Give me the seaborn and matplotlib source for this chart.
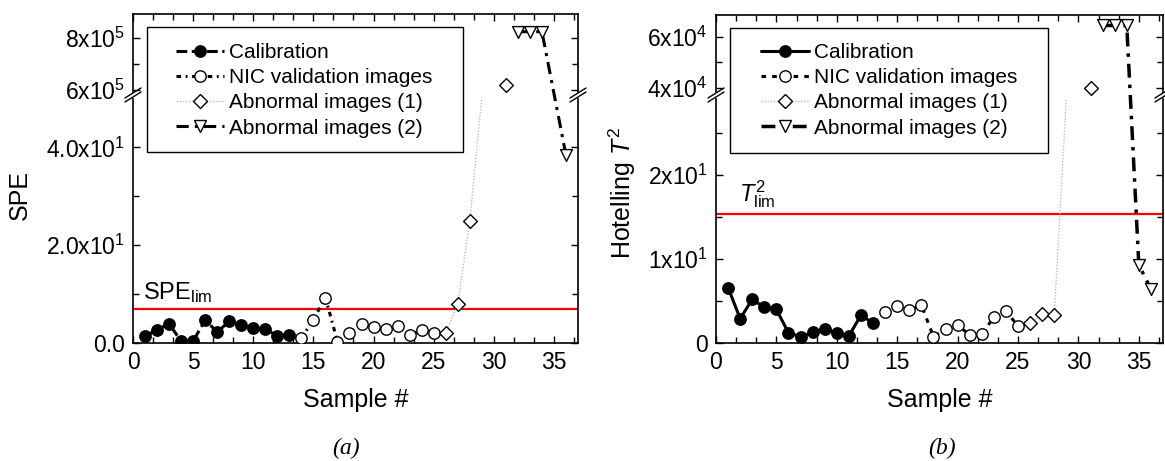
import numpy as np
import matplotlib
matplotlib.use("Agg")
import matplotlib.pyplot as plt
import seaborn as sns
from matplotlib.lines import Line2D
from matplotlib.patches import Rectangle
from matplotlib.ticker import MultipleLocator

# ---------------- data ----------------
calib_x = [1, 2, 3, 4, 5, 6, 7, 8, 9, 10, 11, 12, 13]
nic_x = [14, 15, 16, 17, 18, 19, 20, 21, 22, 23, 24, 25]
ab1_x = [26, 27, 28, 29, 30, 31]

# (a) SPE
calib_spe = [1.4, 2.7, 3.9, 0.4, 0.4, 4.7, 2.25, 4.4, 3.7, 3.0, 2.8, 1.5, 1.7]
nic_spe = [0.96, 4.8, 9.3, 0.3, 2.0, 3.8, 3.3, 2.8, 3.5, 1.6, 2.7, 2.1]
ab1_spe = [2.1, 7.9, 24.9, 54.0, np.nan, 6.19e5]
ab2_x_spe = [32, 33, 34, 36]
ab2_spe = [8.24e5, 8.24e5, 8.24e5, 38.4]
spe_lim = 6.9

# (b) Hotelling T2
calib_t2 = [6.6, 2.9, 5.2, 4.25, 4.0, 1.2, 0.75, 1.27, 1.67, 1.15, 0.83, 3.33, 2.35]
nic_t2 = [3.73, 4.4, 3.93, 4.52, 0.75, 1.63, 2.14, 0.95, 1.07, 3.06, 3.81, 2.02]
ab1_t2 = [2.35, 3.45, 3.33, 30.0, np.nan, 4.0e4]
ab2_x_t2 = [32, 33, 34, 35, 36]
ab2_t2 = [6.44e4, 6.44e4, 6.44e4, 9.3, 6.4]
t2_lim = 15.36

legend_labels = ["Calibration", "NIC validation images",
                 "Abnormal images (1)", "Abnormal images (2)"]

spe_ticks = [0, 20, 40, 6e5, 8e5]
spe_ticklabels = ["0.0", "2.0x10$^{1}$", "4.0x10$^{1}$", "6x10$^{5}$", "8x10$^{5}$"]
spe_minor = [10, 30, 7e5]
t2_ticks = [0, 10, 20, 4e4, 6e4]
t2_ticklabels = ["0", "1x10$^{1}$", "2x10$^{1}$", "4x10$^{4}$", "6x10$^{4}$"]
t2_minor = [5, 15, 25, 5e4]

# ---------------- style ----------------
sns.set_theme(style="ticks")
plt.rcParams["font.family"] = ["Liberation Sans", "DejaVu Sans"]
plt.rcParams["mathtext.fontset"] = "custom"
plt.rcParams["mathtext.rm"] = "Liberation Sans"
plt.rcParams["mathtext.it"] = "Liberation Sans:italic"
plt.rcParams["mathtext.bf"] = "Liberation Sans:bold"
plt.rcParams["axes.edgecolor"] = "black"
plt.rcParams["axes.linewidth"] = 1.2
plt.rcParams["text.color"] = "black"
plt.rcParams["axes.labelcolor"] = "black"
plt.rcParams["xtick.color"] = "black"
plt.rcParams["ytick.color"] = "black"

W, H = 1165, 461
fig = plt.figure(figsize=(W / 100, H / 100), dpi=100)

TICK_FS = 16.5
LAB_FS = 18
LEG_FS = 15


def px_axes(x0, x1, y0, y1):
    return fig.add_axes([x0 / W, 1 - y1 / H, (x1 - x0) / W, (y1 - y0) / H])


def make_break(lo, y_up0, f_up, per):
    def fwd(y):
        y = np.asarray(y, dtype=float)
        mid = lo + (y - lo) / (y_up0 - lo) * (f_up - lo)
        up = f_up + (y - y_up0) * per
        return np.where(y <= lo, y, np.where(y < y_up0, mid, up))

    def inv(f):
        f = np.asarray(f, dtype=float)
        mid = lo + (f - lo) / (f_up - lo) * (y_up0 - lo)
        up = y_up0 + (f - f_up) / per
        return np.where(f <= lo, f, np.where(f < f_up, mid, up))

    return fwd, inv


def draw_series(ax, x, y, lo, y_up0, ls, lw, lcolor, marker, ms, mfc):
    x = np.asarray(x, float)
    y = np.asarray(y, float)
    ok = ~np.isnan(y)
    start = None
    for i in range(len(y) + 1):
        if i < len(y) and ok[i]:
            if start is None:
                start = i
        else:
            if start is not None and i - start >= 2:
                sns.lineplot(x=x[start:i], y=y[start:i], ax=ax, color=lcolor,
                             linestyle=ls, linewidth=lw, estimator=None,
                             sort=False, legend=False, zorder=2)
            start = None
    vis = ok & ((y <= lo) | (y >= y_up0))
    sns.scatterplot(x=x[vis], y=y[vis], ax=ax, marker=marker, s=ms ** 2,
                    color=mfc, edgecolor="black", linewidth=1.0,
                    zorder=3, legend=False, clip_on=True)


def break_marks(ax, yfrac, w_px, h_px):
    for xf in (0, 1):
        for off in (-2.0, 2.0):
            dy = off / h_px
            ax.plot([xf - 8 / w_px, xf + 8 / w_px],
                    [yfrac + dy - 5 / h_px, yfrac + dy + 5 / h_px],
                    transform=ax.transAxes, color="black", lw=1.0,
                    clip_on=False, zorder=6)
        ax.plot([xf, xf], [yfrac - 1.0 / h_px, yfrac + 1.0 / h_px],
                transform=ax.transAxes, color="white", lw=2.5,
                clip_on=False, zorder=5)


def style_axes(ax, ticks, labels, minor, ylim, xlabel, ylabel, ylab_x, ylab_y):
    ax.set_xlim(0, 37)
    ax.set_xticks([0, 5, 10, 15, 20, 25, 30, 35])
    ax.xaxis.set_minor_locator(MultipleLocator(5 / 3))
    ax.set_yticks(ticks, labels)
    ax.set_yticks(minor, minor=True)
    ax.set_ylim(*ylim)
    ax.tick_params(which="both", direction="in", top=True, right=True,
                   width=1.0, labelsize=TICK_FS, colors="black")
    ax.tick_params(which="major", length=5, pad=6)
    ax.tick_params(which="minor", length=4)
    ax.set_xlabel(xlabel, fontsize=LAB_FS, labelpad=10)
    ax.set_ylabel(ylabel, fontsize=LAB_FS)
    ax.yaxis.set_label_coords(ylab_x, ylab_y)
    for s in ax.spines.values():
        s.set_visible(True)
        s.set_color("black")


def legend_box(ax, handles, x0, y0, x1, y1, hx, hy):
    ax.add_patch(Rectangle((x0, y0), x1 - x0, y1 - y0, transform=ax.transAxes,
                           facecolor="white", edgecolor="black", lw=1.0,
                           zorder=4))
    leg = ax.legend(handles=handles, labels=legend_labels, loc="upper left",
                    bbox_to_anchor=(hx, hy), frameon=False, fontsize=LEG_FS,
                    handlelength=2.3, handletextpad=0.25, labelspacing=0.3,
                    borderpad=0, borderaxespad=0, labelcolor="black")
    leg.set_zorder(5)


# ---------------- panel (a) ----------------
axA = px_axes(133, 578, 14, 343)
loA, upA0 = 50.2, 6e5
fA, iA = make_break(loA, upA0, 51.74, (26 / 4.89) / 1e5)
axA.set_yscale("function", functions=(fA, iA))

dashA_cal = (0, (3.5, 1.5))
dashA_nic = (0, (1.5, 1.5, 0.6, 1.5))
dot_ab1 = (0, (1, 1.2))
dashA_ab2 = (0, (4, 2, 1, 2))

MS_C = 8.2
MS_D = 7.0
MS_T = 8.5

draw_series(axA, calib_x, calib_spe, loA, upA0, dashA_cal, 2.2, "black", "o", MS_C, "black")
draw_series(axA, nic_x, nic_spe, loA, upA0, dashA_nic, 2.2, "black", "o", MS_C, "white")
draw_series(axA, ab1_x, ab1_spe, loA, upA0, dot_ab1, 1.0, "#bdbdbd", "D", MS_D, "white")
draw_series(axA, ab2_x_spe, ab2_spe, loA, upA0, dashA_ab2, 2.2, "black", "v", MS_T, "white")
axA.axhline(spe_lim, color="red", lw=1.6, zorder=1)
axA.text(0.8, 9.0, r"SPE$_{\mathrm{lim}}$", fontsize=17, va="baseline", ha="left")

style_axes(axA, spe_ticks, spe_ticklabels, spe_minor, (0, 8.92e5),
           "Sample #", "SPE", -0.228, 0.45)
break_marks(axA, (343 - 95) / 329, 445, 329)

handlesA = [
    Line2D([], [], color="black", ls=dashA_cal, lw=2.2, marker="o", ms=MS_C, mfc="black", mec="black"),
    Line2D([], [], color="black", ls=dashA_nic, lw=2.2, marker="o", ms=MS_C, mfc="white", mec="black"),
    Line2D([], [], color="#bdbdbd", ls=dot_ab1, lw=1.0, marker="D", ms=MS_D, mfc="white", mec="black"),
    Line2D([], [], color="black", ls=dashA_ab2, lw=2.2, marker="v", ms=MS_T, mfc="white", mec="black"),
]
legend_box(axA, handlesA, (147 - 133) / 445, (343 - 152) / 329,
           (463 - 133) / 445, (343 - 27) / 329,
           (176 - 133) / 445, (343 - 43) / 329)

# ---------------- panel (b) ----------------
axB = px_axes(716, 1163, 15, 343)
loB, upB0 = 29.17, 4e4
fB, iB = make_break(loB, upB0, 30.36, (25.6 / 8.4) / 1e4)
axB.set_yscale("function", functions=(fB, iB))

dashB_nic = (0, (1.5, 2.0))
dashB_ab2 = (0, (4, 2, 1, 2))

draw_series(axB, calib_x, calib_t2, loB, upB0, "-", 2.2, "black", "o", MS_C, "black")
draw_series(axB, nic_x, nic_t2, loB, upB0, dashB_nic, 2.2, "black", "o", MS_C, "white")
draw_series(axB, ab1_x, ab1_t2, loB, upB0, dot_ab1, 1.0, "#bdbdbd", "D", MS_D, "white")
draw_series(axB, ab2_x_t2, ab2_t2, loB, upB0, dashB_ab2, 2.5, "black", "v", MS_T, "white")
axB.axhline(t2_lim, color="red", lw=1.6, zorder=1)
axB.text(1.9, 16.9, r"$\mathit{T}^{2}_{\mathrm{lim}}$", fontsize=17, va="baseline", ha="left")

style_axes(axB, t2_ticks, t2_ticklabels, t2_minor, (0, 6.85e4),
           "Sample #", r"Hotelling $\mathit{T}^{2}$", -0.175, 0.457)
break_marks(axB, (343 - 95) / 328, 447, 328)

handlesB = [
    Line2D([], [], color="black", ls="-", lw=2.2, marker="o", ms=MS_C, mfc="black", mec="black"),
    Line2D([], [], color="black", ls=dashB_nic, lw=2.2, marker="o", ms=MS_C, mfc="white", mec="black"),
    Line2D([], [], color="#bdbdbd", ls=dot_ab1, lw=1.0, marker="D", ms=MS_D, mfc="white", mec="black"),
    Line2D([], [], color="black", ls=dashB_ab2, lw=2.5, marker="v", ms=MS_T, mfc="white", mec="black"),
]
legend_box(axB, handlesB, (730 - 716) / 447, (343 - 153) / 328,
           (1048 - 716) / 447, (343 - 28) / 328,
           (761 - 716) / 447, (343 - 43) / 328)

# captions
fig.text(346 / W, 1 - 448 / H, "(a)", fontsize=17, style="italic",
         family="Liberation Serif", ha="center", va="center")
fig.text(942 / W, 1 - 448 / H, "(b)", fontsize=17, style="italic",
         family="Liberation Serif", ha="center", va="center")

fig.savefig("out.png", dpi=100)
